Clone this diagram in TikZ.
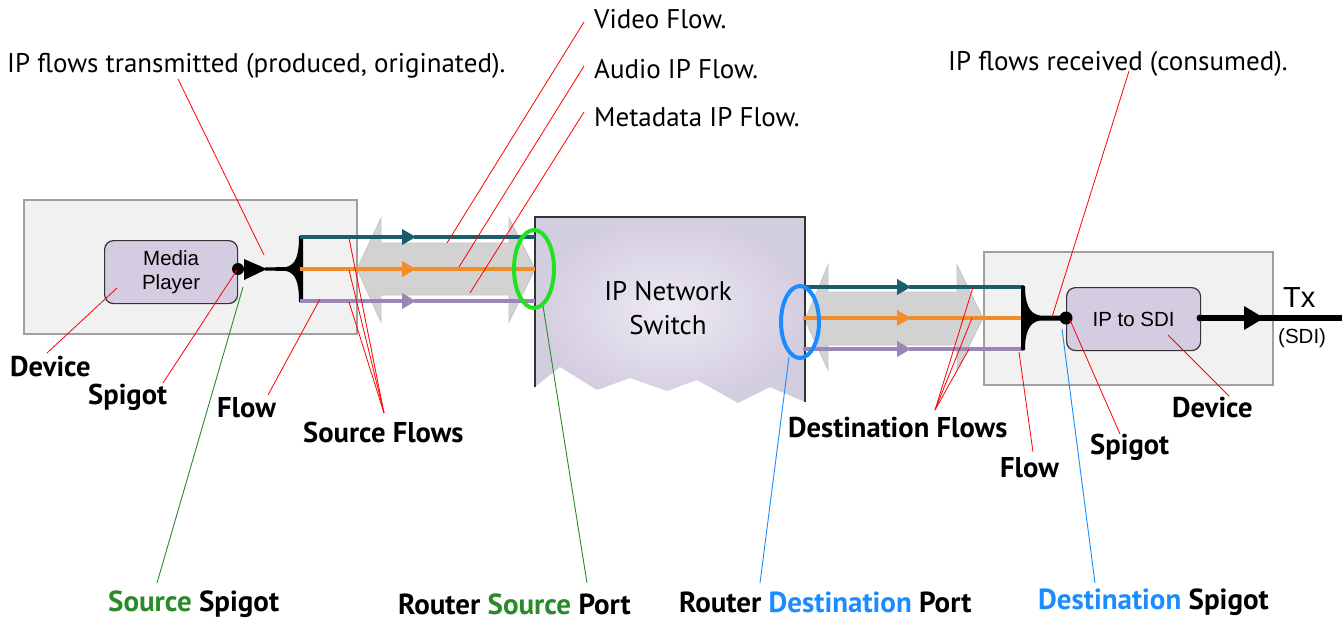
\documentclass[tikz,border=0pt]{standalone}
\usepackage{fontspec}
\setmainfont{PT Sans}
\newfontfamily\arialf{Liberation Sans}
\usetikzlibrary{arrows.meta,shapes.geometric}

\definecolor{boxgray}{HTML}{F1F1F1}
\definecolor{boxedge}{HTML}{A0A0A0}
\definecolor{lav}{HTML}{D4CCE0}
\definecolor{darkedge}{HTML}{333333}
\definecolor{flowteal}{HTML}{1B5E6B}
\definecolor{floworange}{HTML}{F28C28}
\definecolor{flowpurple}{HTML}{9B86B8}
\definecolor{fatgray}{HTML}{D2D2D2}
\definecolor{fatedge}{HTML}{C4C4C4}
\definecolor{srcgreen}{HTML}{2A8A2A}
\definecolor{portgreen}{HTML}{22E022}
\definecolor{dstblue}{HTML}{1A8CFF}
\definecolor{swinner}{HTML}{EEEAF3}
\definecolor{swouter}{HTML}{D3CDE0}

\begin{document}
\begin{tikzpicture}[x=1pt,y=-1pt,
  devbox/.style={fill=boxgray, draw=boxedge, line width=1.5pt, inner sep=0},
  procbox/.style={fill=lav, draw=darkedge, rounded corners=9pt, line width=1.2pt, inner sep=0,
                  font=\arialf\fontsize{20.5}{24}\selectfont, align=center},
  fatarrow/.style={fill=fatgray, draw=fatedge, line width=0.8pt},
  flowline/.style={line width=3.5pt},
  flowtip/.style={-{Triangle[length=14pt,width=15pt]}},
  leader/.style={red, line width=0.8pt},
  gleader/.style={srcgreen, line width=0.9pt},
  bleader/.style={dstblue, line width=0.9pt},
  lab/.style={font=\fontsize{28.6}{32}\selectfont\bfseries, inner sep=0, anchor=west},
  note/.style={font=\fontsize{27}{30}\selectfont, inner sep=0, anchor=west},
  botlab/.style={font=\fontsize{29}{33}\selectfont\bfseries, inner sep=0, anchor=west},
]
\useasboundingbox (0,0) rectangle (1342,629);

% ---------- device boxes ----------
\node[devbox, minimum width=333, minimum height=134, anchor=north west] (devA) at (23,199) {};
\node[devbox, minimum width=289, minimum height=133, anchor=north west] (devB) at (983,251) {};

% ---------- fat gray flow bundles ----------
\path[fatarrow] (357,269) -- (381,218) -- (381,243) -- (509,243) -- (509,218) -- (535,269)
  -- (509,322) -- (509,295) -- (381,295) -- (381,322) -- cycle;
\path[fatarrow] (805,320) -- (828,265) -- (828,292) -- (957,292) -- (957,265) -- (983,318)
  -- (957,370) -- (957,345) -- (828,345) -- (828,370) -- cycle;

% ---------- IP network switch ----------
\shade[inner color=swinner, outer color=swouter]
  (535,217) -- (805,217) -- (805,402) -- (770,387) -- (738,403) -- (697,380) -- (667,391)
  -- (630,378) -- (597,390) -- (560,367) -- (535,387) -- cycle;
\draw[darkedge, line width=1.8pt] (535,387) -- (535,217) -- (805,217) -- (805,402);
\node[font=\fontsize{27}{34}\selectfont, align=center] (sw) at (668,308) {IP Network\\Switch};

% ---------- processing boxes ----------
\node[procbox, minimum width=133, minimum height=63, anchor=north west] (mp) at (104,240) {Media\\Player};
\node[procbox, minimum width=134, minimum height=63, anchor=north west] (ipsdi) at (1066,287) {IP to SDI};

% ---------- source spigot and fan-out ----------
\fill[black] (238,269) circle (6);
\fill[black] (244,259) -- (267,269) -- (244,280) -- cycle;
\fill[black] (265,267.5) -- (286,267) .. controls (296,265) and (299,255) .. (299,236)
  -- (303,236) -- (303,302) -- (299,302) .. controls (299,283) and (296,273) .. (286,271)
  -- (265,270.5) -- cycle;
\coordinate (srcT) at (300,237);
\coordinate (srcO) at (300,269);
\coordinate (srcP) at (300,301);

\draw[flowline, flowteal, flowtip] (srcT) -- (416,237);
\draw[flowline, flowteal] (414,237) -- (535,237);
\draw[flowline, floworange, flowtip] (srcO) -- (416,269);
\draw[flowline, floworange] (414,269) -- (535,269);
\draw[flowline, flowpurple, flowtip] (srcP) -- (416,301);
\draw[flowline, flowpurple] (414,301) -- (535,301);

% ---------- destination fan-in and spigot ----------
\draw[flowline, flowteal, flowtip] (803,287) -- (911,287);
\draw[flowline, flowteal] (909,287) -- (1024,287);
\draw[flowline, floworange, flowtip] (803,318) -- (911,318);
\draw[flowline, floworange] (909,318) -- (1024,318);
\draw[flowline, flowpurple, flowtip] (803,349) -- (911,349);
\draw[flowline, flowpurple] (909,349) -- (1024,349);

\fill[black] (1021,286) -- (1025,286) .. controls (1025,303) and (1029,314) .. (1040,315.5)
  -- (1062,315.5) -- (1062,320.5) -- (1040,320.5) .. controls (1029,322) and (1025,333) .. (1025,350)
  -- (1021,350) -- cycle;
\fill[black] (1066,318) circle (6.5);

% ---------- SDI output ----------
\fill[black] (1200,318) circle (3.5);
\draw[black, line width=6pt] (1200,318) -- (1342,318);
\fill[black] (1244,306) -- (1264,318) -- (1244,330) -- cycle;
\node[font=\arialf\fontsize{29}{33}\selectfont, inner sep=0, anchor=west] (tx) at (1283,298) {Tx};
\node[font=\arialf\fontsize{20.5}{24}\selectfont, inner sep=0, anchor=west] (sdi) at (1278,338) {(SDI)};

% ---------- router ports ----------
\draw[portgreen, line width=4pt] (534,269) ellipse [x radius=20, y radius=39];
\coordinate (srcport) at (543,306);
\draw[dstblue, line width=4pt] (800,322) ellipse [x radius=19, y radius=36];
\coordinate (dstport) at (789,357);

% ---------- top notes ----------
\node[note] (ipt) at (7,66) {IP flows transmitted (produced, originated).};
\node[note] (vid) at (594,19) {Video Flow.};
\node[note] (aud) at (594,69) {Audio IP Flow.};
\node[note] (meta) at (594,117) {Metadata IP Flow.};
\node[note] (ipr) at (948,64) {IP flows received (consumed).};

% ---------- bold labels ----------
\node[lab] (devL) at (10,367) {Device};
\node[lab] (spgL) at (88,397) {Spigot};
\node[lab] (flwL) at (217,408) {Flow};
\node[lab] (sfl) at (303,432) {Source Flows};
\node[lab] (dfl) at (788,428) {Destination Flows};
\node[lab] (flwR) at (1000,468) {Flow};
\node[lab] (spgR) at (1090,447) {Spigot};
\node[lab] (devR) at (1172,408) {Device};

\node[botlab] (ssp) at (108,604) {\textcolor{srcgreen}{Source} Spigot};
\node[botlab] (rsp) at (398,604) {Router \textcolor{srcgreen}{Source} Port};
\node[botlab] (rdp) at (679,602) {Router \textcolor{dstblue}{Destination} Port};
\node[botlab] (dsp) at (1038,602) {\textcolor{dstblue}{Destination} Spigot};

% ---------- leader lines ----------
\coordinate (mpIn) at (117,288);
\coordinate (spA) at (237,270);
\coordinate (spAlow) at (243,287);
\coordinate (flA) at (320,299);
\coordinate (iptEnd) at (264,255);
\coordinate (vidEnd) at (447,243);
\coordinate (audEnd) at (459,267);
\coordinate (metaEnd) at (470,293);
\coordinate (sfT) at (349,238);
\coordinate (sfO) at (349,270);
\coordinate (sfP) at (349,302);
\coordinate (sfJ) at (384,413);
\coordinate (dfT) at (973,287);
\coordinate (dfO) at (972,318);
\coordinate (dfP) at (969,349);
\coordinate (dfJ) at (935,410);
\coordinate (flB) at (1019,352);
\coordinate (spB) at (1070,320);
\coordinate (spBlow) at (1062,329);
\coordinate (ipsdiIn) at (1168,335);
\coordinate (iprEnd) at (1052,317);

\draw[leader] (47,353) -- (mpIn);
\draw[leader] (163,383) -- (spA);
\draw[leader] (268,395) -- (flA);
\draw[leader] (178,79) -- (iptEnd);
\draw[leader] (584,22) -- (vidEnd);
\draw[leader] (584,66) -- (audEnd);
\draw[leader] (584,112) -- (metaEnd);
\draw[leader] (sfJ) -- (sfT);
\draw[leader] (sfJ) -- (sfO);
\draw[leader] (sfJ) -- (sfP);
\draw[leader] (dfJ) -- (dfT);
\draw[leader] (dfJ) -- (dfO);
\draw[leader] (dfJ) -- (dfP);
\draw[leader] (1033,452) -- (flB);
\draw[leader] (1120,434) -- (spB);
\draw[leader] (1229,396) -- (ipsdiIn);
\draw[leader] (1129,71) -- (iprEnd);

\draw[gleader] (157,583) -- (spAlow);
\draw[gleader] (587,583) -- (srcport);
\draw[bleader] (760,583) -- (dstport);
\draw[bleader] (1095,583) -- (spBlow);
\end{tikzpicture}
\end{document}
